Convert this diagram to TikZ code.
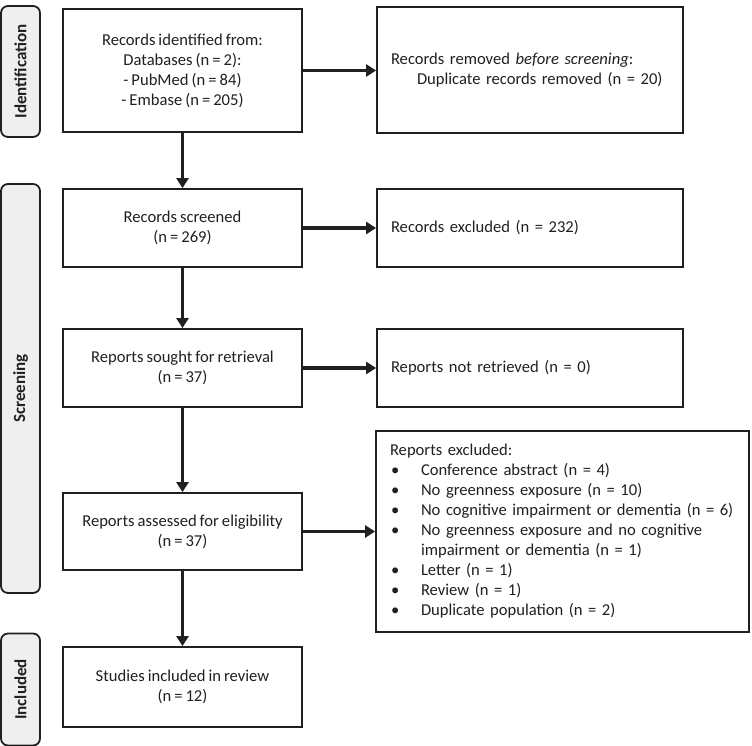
\documentclass[tikz,border=0pt]{standalone}
\usepackage{fontspec}
\setmainfont{Carlito}[WordSpace=0.8]
\usetikzlibrary{arrows.meta}
\definecolor{ink}{HTML}{231F20}
\definecolor{barfill}{HTML}{EFEFEF}
\tikzset{
  box/.style={draw=ink, line width=1.8pt, fill=white, inner sep=0pt, align=center,
    font=\fontsize{16.6}{20}\selectfont, text=ink},
  sidebox/.style={box, align=left, inner xsep=14pt, text width=#1},
  phase/.style={draw=ink, line width=1.8pt, fill=barfill, rounded corners=7pt, inner sep=0pt,
    minimum width=39pt},
  phasetext/.style={rotate=90, font=\fontsize{17}{20}\selectfont\bfseries, text=ink},
  flow/.style={draw=ink, line width=3.6pt, -{Triangle[length=10pt,width=12pt]}}
}
\begin{document}
\begin{tikzpicture}[x=1pt,y=-1pt]
\useasboundingbox (0,0) rectangle (752,746);
% phase bars
\node[phase, minimum height=131pt] (pid) at (20.5,71.5) {};
\node[phasetext] (tid) at (pid.center) {Identification};
\node[phase, minimum height=409pt] (psc) at (20.5,388.5) {};
\node[phasetext] (tsc) at (psc.center) {Screening};
\node[phase, minimum height=112pt] (pin) at (20.5,689.5) {};
\node[phasetext] (tin) at (pin.center) {Included};
% main column
\node[box, minimum width=239pt, minimum height=123pt] (b1) at (182.5,70.5)
  {Records identified from:\\Databases (n = 2):\\- PubMed (n = 84)\\- Embase (n = 205)};
\node[box, minimum width=239pt, minimum height=78pt] (b2) at (182.5,228)
  {Records screened\\(n = 269)};
\node[box, minimum width=239pt, minimum height=78pt] (b3) at (182.5,368)
  {Reports sought for retrieval\\(n = 37)};
\node[box, minimum width=239pt, minimum height=77pt] (b4) at (182.5,531.5)
  {Reports assessed for eligibility\\(n = 37)};
\node[box, minimum width=239pt, minimum height=80pt] (b5) at (182.5,687)
  {Studies included in review\\(n = 12)};
% side column
\node[sidebox=278pt, minimum height=126pt] (r1) at (530,70)
  {Records removed \textit{before screening}:\\\hspace*{26pt}Duplicate records removed (n = 20)};
\node[sidebox=278pt, minimum height=78pt] (r2) at (530,228)
  {Records excluded (n = 232)};
\node[sidebox=278pt, minimum height=78pt] (r3) at (530,368)
  {Reports not retrieved (n = 0)};
\node[sidebox=345pt, minimum height=201pt] (r4) at (562.5,531.5)
  {Reports excluded:\\
   \makebox[31pt][l]{\hspace*{1pt}\textbullet}Conference abstract (n = 4)\\
   \makebox[31pt][l]{\hspace*{1pt}\textbullet}No greenness exposure (n = 10)\\
   \makebox[31pt][l]{\hspace*{1pt}\textbullet}\mbox{No cognitive impairment or dementia (n = 6)}\\
   \makebox[31pt][l]{\hspace*{1pt}\textbullet}No greenness exposure and no cognitive\\
   \hspace*{31pt}impairment or dementia (n = 1)\\
   \makebox[31pt][l]{\hspace*{1pt}\textbullet}Letter (n = 1)\\
   \makebox[31pt][l]{\hspace*{1pt}\textbullet}Review (n = 1)\\
   \makebox[31pt][l]{\hspace*{1pt}\textbullet}Duplicate population (n = 2)};
% connectors
\draw[flow] (b1) -- (b2);
\draw[flow] (b2) -- (b3);
\draw[flow] (b3) -- (b4);
\draw[flow] (b4) -- (b5);
\draw[flow] (b1.east) -- (r1.west |- b1.east);
\draw[flow] (b2.east) -- (r2.west |- b2.east);
\draw[flow] (b3.east) -- (r3.west |- b3.east);
\draw[flow] (b4.east) -- (r4.west |- b4.east);
\end{tikzpicture}
\end{document}
